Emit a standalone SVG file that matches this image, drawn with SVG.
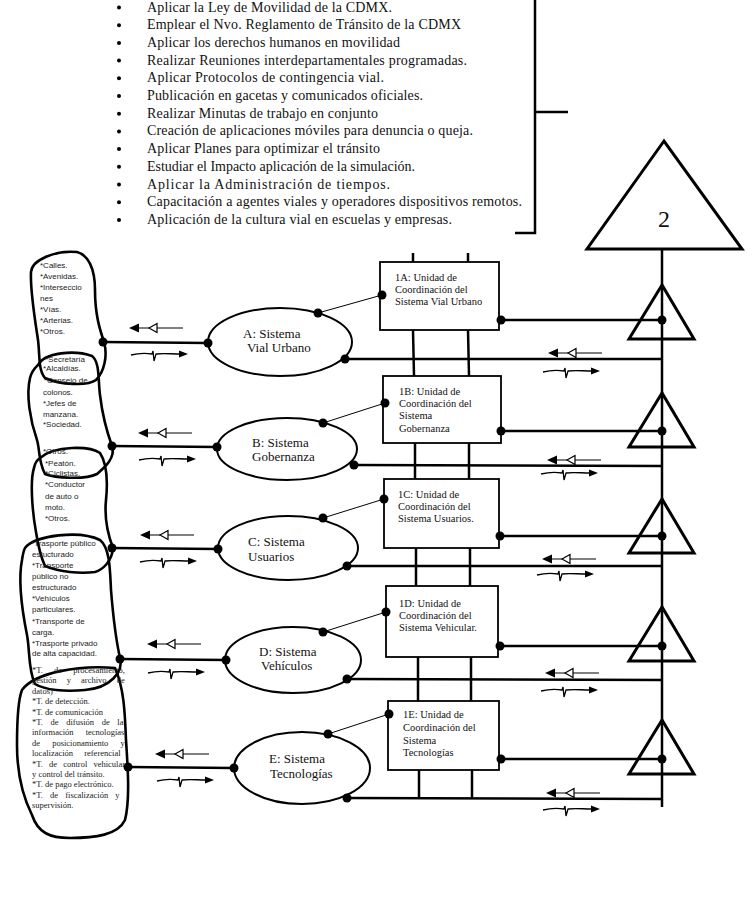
<svg xmlns="http://www.w3.org/2000/svg" width="756" height="907" viewBox="0 0 756 907">
<style>
.bg{fill:#fff}
.lst{font-family:"Liberation Serif","Times New Roman",serif;font-size:14px;fill:#111}
.bx{fill:#fff;stroke:#000;stroke-width:1.8}
.bt{font-family:"Liberation Serif","Times New Roman",serif;font-size:10.5px;fill:#111}
.el{fill:#fff;stroke:#000;stroke-width:2}
.et{font-family:"Liberation Serif","Times New Roman",serif;font-size:13px;fill:#111}
.blob{fill:none;stroke:#000;stroke-width:2.6;stroke-linejoin:round}
.st{font-family:"Liberation Sans",Arial,sans-serif;font-size:8px;fill:#222}
.se{font-family:"Liberation Serif","Times New Roman",serif;font-size:8.5px;fill:#222}
.thick{stroke:#000;stroke-width:2.5;fill:none}
.thin{stroke:#000;stroke-width:1;fill:none}
.tri{fill:none;stroke:#000;stroke-width:3;stroke-linejoin:miter}
.dot{fill:#000}
</style>
<defs>
<g id="la">
<polygon points="0,0 10,-4.5 10,4.5" fill="#000"/>
<line x1="10" y1="0" x2="20" y2="0" stroke="#000" stroke-width="1"/>
<polygon points="20,0 28,-4.5 28,4.5" fill="#fff" stroke="#000" stroke-width="1.2"/>
<line x1="28" y1="0" x2="54" y2="0" stroke="#000" stroke-width="1"/>
</g>
<g id="sq">
<path d="M0,1 C8,-1 15,-1 21,0 L22,-3 L23,7 L25,0 C32,-1 40,0 49,0" fill="none" stroke="#000" stroke-width="1.3"/>
<polygon points="48,-3.5 57,0 48,3.5" fill="#000"/>
</g>
</defs>
<rect class="bg" x="0" y="0" width="756" height="907"/>

<g id="list">
<g fill="#000">
<circle cx="119" cy="7.5" r="2"/><circle cx="119" cy="25.2" r="2"/><circle cx="119" cy="42.9" r="2"/><circle cx="119" cy="60.6" r="2"/><circle cx="119" cy="78.3" r="2"/><circle cx="119" cy="96" r="2"/><circle cx="119" cy="113.7" r="2"/><circle cx="119" cy="131.4" r="2"/><circle cx="119" cy="149.1" r="2"/><circle cx="119" cy="166.8" r="2"/><circle cx="119" cy="184.5" r="2"/><circle cx="119" cy="202.2" r="2"/><circle cx="119" cy="219.9" r="2"/>
</g>
<text class="lst" x="147" y="11.5" textLength="245" lengthAdjust="spacing">Aplicar la Ley de Movilidad de la CDMX.</text>
<text class="lst" x="147" y="29.2" textLength="314" lengthAdjust="spacing">Emplear el Nvo. Reglamento de Tránsito de la CDMX</text>
<text class="lst" x="147" y="46.9" textLength="253" lengthAdjust="spacing">Aplicar los derechos humanos en movilidad</text>
<text class="lst" x="147" y="64.6" textLength="320" lengthAdjust="spacing">Realizar Reuniones interdepartamentales programadas.</text>
<text class="lst" x="147" y="82.3" textLength="237" lengthAdjust="spacing">Aplicar Protocolos de contingencia vial.</text>
<text class="lst" x="147" y="100" textLength="276" lengthAdjust="spacing">Publicación en gacetas y comunicados oficiales.</text>
<text class="lst" x="147" y="117.7" textLength="231" lengthAdjust="spacing">Realizar Minutas de trabajo en conjunto</text>
<text class="lst" x="147" y="135.4" textLength="326" lengthAdjust="spacing">Creación de aplicaciones móviles para denuncia o queja.</text>
<text class="lst" x="147" y="153.1" textLength="233" lengthAdjust="spacing">Aplicar Planes para optimizar el tránsito</text>
<text class="lst" x="147" y="170.8" textLength="268" lengthAdjust="spacing">Estudiar el Impacto aplicación de la simulación.</text>
<text class="lst" x="147" y="188.5" textLength="243" lengthAdjust="spacing">Aplicar la Administración de tiempos.</text>
<text class="lst" x="147" y="206.2" textLength="375" lengthAdjust="spacing">Capacitación a agentes viales y operadores dispositivos remotos.</text>
<text class="lst" x="147" y="223.9" textLength="305" lengthAdjust="spacing">Aplicación de la cultura vial en escuelas y empresas.</text>
</g>

<g id="bracket">
<polyline class="thick" points="535,0 535,233 515,233"/>
<line class="thick" x1="535" y1="112" x2="568" y2="112"/>
</g>

<g id="connectors">
<line class="thick" x1="662" y1="249" x2="662" y2="807"/>
<line class="thick" x1="413" y1="253" x2="413" y2="262"/><line class="thick" x1="468" y1="253" x2="468" y2="262"/>
<line class="thick" x1="413" y1="330" x2="414" y2="376"/><line class="thick" x1="468" y1="330" x2="469" y2="376"/>
<line class="thick" x1="415" y1="443" x2="415" y2="479"/><line class="thick" x1="469" y1="443" x2="469" y2="479"/>
<line class="thick" x1="416" y1="548" x2="416" y2="586"/><line class="thick" x1="470" y1="548" x2="470" y2="586"/>
<line class="thick" x1="418" y1="657" x2="418" y2="701"/><line class="thick" x1="471" y1="657" x2="471" y2="701"/>
<line class="thick" x1="419" y1="770" x2="419" y2="798"/><line class="thick" x1="472" y1="770" x2="472" y2="798"/>
<line class="thick" x1="103" y1="342" x2="208" y2="343"/>
<line class="thick" x1="112" y1="446" x2="217" y2="447"/>
<line class="thick" x1="112" y1="548" x2="218" y2="549"/>
<line class="thick" x1="120" y1="659" x2="226" y2="660"/>
<line class="thick" x1="128" y1="767" x2="234" y2="768"/>
<line class="thick" x1="345" y1="359" x2="662" y2="359"/>
<line class="thick" x1="354" y1="465" x2="662" y2="466"/>
<line class="thick" x1="347" y1="566" x2="662" y2="566"/>
<line class="thick" x1="347" y1="679" x2="662" y2="680"/>
<line class="thick" x1="347" y1="798" x2="662" y2="799"/>
<line class="thin" x1="318" y1="313" x2="382" y2="295"/>
<line class="thin" x1="323" y1="423" x2="385" y2="403"/>
<line class="thin" x1="323" y1="518" x2="384" y2="499"/>
<line class="thin" x1="323" y1="632" x2="386" y2="612"/>
<line class="thin" x1="328" y1="734" x2="389" y2="714"/>
<line class="thick" x1="501" y1="320" x2="662" y2="320"/>
<line class="thick" x1="501" y1="431" x2="662" y2="431"/>
<line class="thick" x1="500" y1="536" x2="662" y2="536"/>
<line class="thick" x1="500" y1="646" x2="662" y2="646"/>
<line class="thick" x1="501" y1="759" x2="662" y2="759"/>
</g>

<g id="node-2">
<polygon class="tri" points="664,141 587,249 742,249"/>
<text x="664" y="227" text-anchor="middle" font-family="Liberation Serif, Times New Roman, serif" font-size="24" fill="#111">2</text>
</g>
<g id="tri-1"><polygon class="tri" points="662,285 629,339 694,339"/></g>
<g id="tri-2"><polygon class="tri" points="662,393 629,447 694,447"/></g>
<g id="tri-3"><polygon class="tri" points="662,499 629,553 694,553"/></g>
<g id="tri-4"><polygon class="tri" points="662,607 629,661 694,661"/></g>
<g id="tri-5"><polygon class="tri" points="662,720 629,774 694,774"/></g>

<g id="node-1A">
<rect class="bx" x="380" y="262" width="119" height="68"/>
<text class="bt" x="395" y="281">1A: Unidad de</text>
<text class="bt" x="395" y="293">Coordinación del</text>
<text class="bt" x="395" y="305">Sistema Vial Urbano</text>
</g>
<g id="node-1B">
<rect class="bx" x="383" y="376" width="118" height="67"/>
<text class="bt" x="399" y="395">1B: Unidad de</text>
<text class="bt" x="399" y="407">Coordinación del</text>
<text class="bt" x="399" y="419">Sistema</text>
<text class="bt" x="399" y="432">Gobernanza</text>
</g>
<g id="node-1C">
<rect class="bx" x="384" y="479" width="115" height="69"/>
<text class="bt" x="398" y="498">1C: Unidad de</text>
<text class="bt" x="398" y="510">Coordinación del</text>
<text class="bt" x="398" y="522">Sistema Usuarios.</text>
</g>
<g id="node-1D">
<rect class="bx" x="386" y="586" width="112" height="71"/>
<text class="bt" x="399" y="607">1D: Unidad de</text>
<text class="bt" x="399" y="619">Coordinación del</text>
<text class="bt" x="399" y="631">Sistema Vehicular.</text>
</g>
<g id="node-1E">
<rect class="bx" x="388" y="701" width="111" height="69"/>
<text class="bt" x="403" y="718">1E: Unidad de</text>
<text class="bt" x="403" y="731">Coordinación del</text>
<text class="bt" x="403" y="744">Sistema</text>
<text class="bt" x="403" y="756">Tecnologías</text>
</g>

<g id="node-A">
<ellipse class="el" cx="280" cy="342" rx="72" ry="34"/>
<text class="et" x="243" y="338">A: Sistema</text>
<text class="et" x="247" y="352">Vial Urbano</text>
</g>
<g id="node-B">
<ellipse class="el" cx="287" cy="449" rx="70" ry="31"/>
<text class="et" x="252" y="447">B: Sistema</text>
<text class="et" x="252" y="461">Gobernanza</text>
</g>
<g id="node-C">
<ellipse class="el" cx="288" cy="548" rx="70" ry="32"/>
<text class="et" x="248" y="546">C: Sistema</text>
<text class="et" x="248" y="561">Usuarios</text>
</g>
<g id="node-D">
<ellipse class="el" cx="293" cy="660" rx="68" ry="33"/>
<text class="et" x="259" y="656">D: Sistema</text>
<text class="et" x="261" y="670">Vehículos</text>
</g>
<g id="node-E">
<ellipse class="el" cx="302" cy="768" rx="68" ry="36"/>
<text class="et" x="269" y="763">E: Sistema</text>
<text class="et" x="270" y="778">Tecnologías</text>
</g>

<g id="blob-A">
<path class="blob" d="M77,252 C88,255 95,268 95,290 C95,315 100,330 104,342 C108,356 104,372 96,380 C88,386 60,385 45,378 C38,370 40,355 38,340 C35,320 30,290 31,272 C32,260 55,250 77,252 Z"/>
<text class="st" x="40" y="268">*Calles.</text>
<text class="st" x="40" y="279">*Avenidas.</text>
<text class="st" x="40" y="290">*Interseccio</text>
<text class="st" x="40" y="301">nes</text>
<text class="st" x="40" y="312">*Vías.</text>
<text class="st" x="40" y="323">*Arterias.</text>
<text class="st" x="40" y="334">*Otros.</text>
</g>
<g id="blob-B">
<path class="blob" d="M38,365 C45,352 75,350 92,356 C100,362 98,380 100,395 C103,420 108,435 112,446 C116,458 104,468 97,474 C85,480 55,478 45,474 C38,460 40,450 37,440 C30,420 26,395 30,378 C32,370 35,368 38,365 Z"/>
<text class="st" x="45" y="362">*Secretaría</text>
<text class="st" x="43" y="371">*Alcaldías.</text>
<text class="st" x="44" y="383">*Consejo de</text>
<text class="st" x="43" y="395">colonos.</text>
<text class="st" x="43" y="406">*Jefes de</text>
<text class="st" x="43" y="417">manzana.</text>
<text class="st" x="43" y="427">*Sociedad.</text>
</g>
<g id="blob-C">
<path class="blob" d="M40,458 C55,445 90,446 100,453 C106,462 108,480 106,500 C104,520 108,535 113,548 C112,562 102,570 95,572 C80,574 60,572 45,566 C40,555 38,545 36,532 C32,510 30,480 34,468 C35,462 37,460 40,458 Z"/>
<text class="st" x="43" y="454">*Otros.</text>
<text class="st" x="45" y="466">*Peatón.</text>
<text class="st" x="45" y="476">*Ciclistas.</text>
<text class="st" x="45" y="487">*Conductor</text>
<text class="st" x="45" y="499">de auto o</text>
<text class="st" x="45" y="510">moto.</text>
<text class="st" x="45" y="521">*Otros.</text>
</g>
<g id="blob-D">
<path class="blob" d="M25,548 C35,535 80,530 100,540 C110,548 110,570 111,590 C113,615 116,640 120,658 C124,672 110,688 85,690 C65,692 45,690 35,684 C28,670 30,650 27,635 C22,610 18,580 22,560 C23,553 24,550 25,548 Z"/>
<text class="st" x="31" y="546">*Trasporte público</text>
<text class="st" x="32" y="557">estucturado</text>
<text class="st" x="32" y="568">*Transporte</text>
<text class="st" x="32" y="579">público no</text>
<text class="st" x="32" y="590">estructurado</text>
<text class="st" x="32" y="601">*Vehículos</text>
<text class="st" x="32" y="612">particulares.</text>
<text class="st" x="32" y="624">*Transporte de</text>
<text class="st" x="32" y="635">carga.</text>
<text class="st" x="32" y="646">*Trasporte privado</text>
<text class="st" x="32" y="656">de alta capacidad.</text>
</g>
<g id="blob-E">
<path class="blob" d="M22,690 C35,672 80,665 115,668 C125,690 125,720 126,740 C128,770 130,800 125,820 C118,835 95,838 70,838 C50,838 38,833 32,815 C22,795 17,770 17,745 C17,720 18,700 22,690 Z"/>
<text class="se" x="32" y="673" word-spacing="9">*T. de procesamiento,</text>
<text class="se" x="32" y="683.4" word-spacing="8">gestión y archivo de</text>
<text class="se" x="32" y="693.8">datos)</text>
<text class="se" x="32" y="704.2">*T. de detección.</text>
<text class="se" x="32" y="714.6">*T. de comunicación</text>
<text class="se" x="32" y="725" word-spacing="5.5">*T. de difusión de la</text>
<text class="se" x="32" y="735.4" word-spacing="10">información tecnologías</text>
<text class="se" x="32" y="745.8" word-spacing="10">de posicionamiento y</text>
<text class="se" x="32" y="756.2" word-spacing="9">localización referencial</text>
<text class="se" x="32" y="766.6" word-spacing="4">*T. de control vehicular</text>
<text class="se" x="32" y="777">y control del tránsito.</text>
<text class="se" x="32" y="787.4">*T. de pago electrónico.</text>
<text class="se" x="32" y="797.8" word-spacing="5">*T. de fiscalización y</text>
<text class="se" x="32" y="808.2">supervisión.</text>
</g>

<g id="connector-dots" class="dot">
<circle cx="103" cy="342" r="4.5"/><circle cx="208" cy="343" r="4.5"/><circle cx="345" cy="359" r="4.5"/><circle cx="318" cy="313" r="4.5"/><circle cx="382" cy="295" r="4.5"/><circle cx="501" cy="320" r="4.5"/><circle cx="662" cy="320" r="4.5"/>
<circle cx="112" cy="446" r="4.5"/><circle cx="217" cy="447" r="4.5"/><circle cx="354" cy="465" r="4.5"/><circle cx="323" cy="423" r="4.5"/><circle cx="385" cy="403" r="4.5"/><circle cx="501" cy="431" r="4.5"/><circle cx="662" cy="431" r="4.5"/>
<circle cx="112" cy="548" r="4.5"/><circle cx="218" cy="549" r="4.5"/><circle cx="347" cy="566" r="4.5"/><circle cx="323" cy="518" r="4.5"/><circle cx="384" cy="499" r="4.5"/><circle cx="500" cy="536" r="4.5"/><circle cx="662" cy="536" r="4.5"/>
<circle cx="120" cy="659" r="4.5"/><circle cx="226" cy="660" r="4.5"/><circle cx="347" cy="679" r="4.5"/><circle cx="323" cy="632" r="4.5"/><circle cx="386" cy="612" r="4.5"/><circle cx="500" cy="646" r="4.5"/><circle cx="662" cy="646" r="4.5"/>
<circle cx="128" cy="767" r="4.5"/><circle cx="234" cy="768" r="4.5"/><circle cx="347" cy="798" r="4.5"/><circle cx="328" cy="734" r="4.5"/><circle cx="389" cy="714" r="4.5"/><circle cx="501" cy="759" r="4.5"/><circle cx="662" cy="759" r="4.5"/>
</g>

<g id="flows">
<use href="#la" x="129" y="328"/><use href="#sq" x="131" y="354"/>
<use href="#la" x="138" y="433"/><use href="#sq" x="139" y="459"/>
<use href="#la" x="140" y="535"/><use href="#sq" x="140" y="561"/>
<use href="#la" x="147" y="644"/><use href="#sq" x="148" y="672"/>
<use href="#la" x="155" y="754"/><use href="#sq" x="157" y="780"/>
<use href="#la" x="548" y="353"/><use href="#sq" x="543" y="371"/>
<use href="#la" x="547" y="460"/><use href="#sq" x="541" y="473"/>
<use href="#la" x="542" y="559"/><use href="#sq" x="537" y="574"/>
<use href="#la" x="545" y="673"/><use href="#sq" x="541" y="690"/>
<use href="#la" x="546" y="793"/><use href="#sq" x="543" y="809"/>
</g>
</svg>
